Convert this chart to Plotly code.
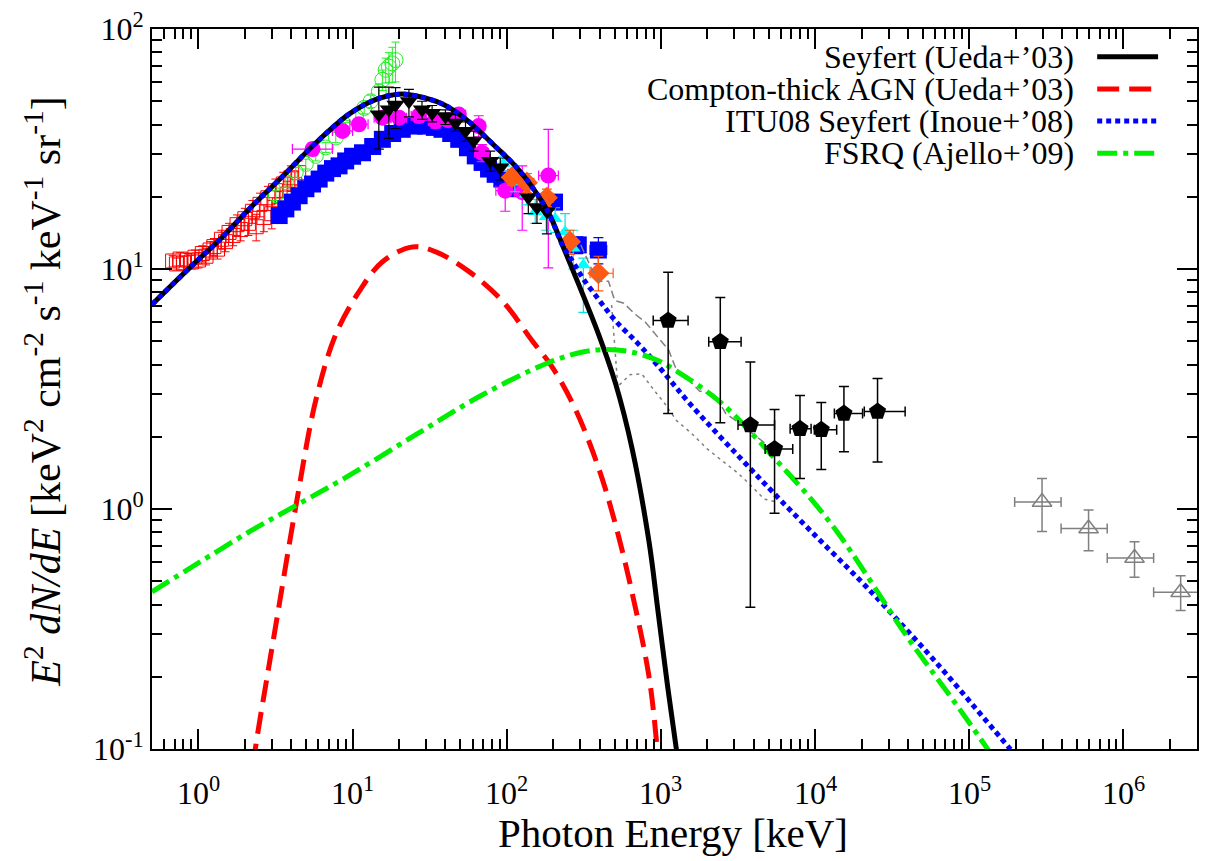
import math
import plotly.graph_objects as go

FONT = "'Liberation Serif', 'Times New Roman', Times, serif"

# ---------------- model curves (E [keV], E^2 dN/dE) ----------------
sey_E = [0.5, 0.918, 1.368, 2.138, 3.51, 5.77, 9.48, 14.1, 19.95, 25.6, 38.0, 54.0, 84.3, 113.5,
         145.2, 186.2, 229.6, 291, 393, 508, 652, 836, 955, 1096, 1259, 1380]
sey_F = [7.11, 10.4, 13.2, 17.8, 24.3, 33.5, 44.2, 50.8, 53.5, 52.7, 48.8, 42.2, 32.4, 26.9,
         22.1, 17.2, 12.6, 8.71, 5.37, 3.33, 1.77, 0.734, 0.38, 0.19, 0.1, 0.063]

ctk_E = [2.138, 2.339, 2.754, 3.184, 4.30, 5.78, 7.80, 11.04, 15.63, 24.5, 34.7, 57.0, 93.8,
         146.6, 197.7, 280, 396, 508, 652, 836, 946, 1000]
ctk_F = [0.063, 0.1, 0.19, 0.331, 1.04, 2.85, 5.36, 8.07, 10.72, 12.36, 11.78, 9.75, 7.35,
         5.01, 3.89, 2.59, 1.47, 0.859, 0.444, 0.201, 0.1, 0.063]

itu_E = [0.5, 0.918, 1.368, 2.138, 3.51, 5.77, 9.48, 14.1, 19.95, 25.6, 38.0, 54.0, 84.3, 113.5,
         145.2, 186.2, 229.6, 269, 309, 398, 508, 708, 948, 1585, 3776, 5297, 9886, 21630,
         61240, 182800, 223900]
itu_F = [7.11, 10.4, 13.2, 17.8, 24.3, 33.5, 44.2, 50.8, 53.5, 52.7, 48.8, 42.2, 32.4, 26.9,
         22.1, 17.2, 12.6, 10.7, 9.23, 7.41, 6.08, 4.9, 3.98, 2.69, 1.48, 1.178, 0.782, 0.472,
         0.2286, 0.1007, 0.087]

fsrq_E = [0.5, 1.0, 2.138, 4.30, 9.51, 25.7, 69.2, 186.2, 316, 447, 631, 948, 1259, 2427, 5297,
          12850, 40360, 83750, 130300, 158500]
fsrq_F = [0.452, 0.596, 0.804, 1.035, 1.38, 2.04, 2.985, 4.07, 4.52, 4.62, 4.52, 4.17, 3.76, 2.79,
          1.66, 0.859, 0.288, 0.151, 0.1007, 0.083]

# ---------------- data sets ----------------
red_E = [0.68, 0.72, 0.76, 0.80, 0.85, 0.90, 0.95, 1.00, 1.06, 1.12, 1.19, 1.26, 1.33, 1.41, 1.50,
         1.58, 1.68, 1.78, 1.88, 2.00, 2.11, 2.24, 2.37, 2.51, 2.66, 2.82, 2.99, 3.16, 3.35, 3.55,
         3.76, 3.98, 4.22, 4.47]
red_F = [10.8, 10.5, 11.0, 10.6, 10.9, 10.7, 11.2, 10.9, 11.6, 11.3, 12.0, 12.4, 12.1, 13.3, 13.0,
         14.2, 13.8, 15.3, 14.6, 16.2, 15.5, 17.4, 15.0, 18.6, 16.4, 19.8, 17.0, 21.2, 18.5, 22.6,
         20.5, 24.0, 22.5, 25.2]
red_dF = [0.6, 0.6, 0.7, 0.7, 0.7, 0.7, 0.8, 0.8, 0.9, 0.9, 1.0, 1.0, 1.1, 1.2, 1.2, 1.3, 1.3,
          1.5, 1.5, 1.7, 1.7, 1.9, 1.9, 2.1, 2.1, 2.3, 2.3, 2.5, 2.5, 2.7, 2.7, 2.9, 2.9, 3.0]

green_E = [3.18, 3.69, 4.28, 4.97, 5.77, 6.70, 7.78, 9.02, 10.5, 11.9, 13.1, 14.8, 15.6, 16.4,
           17.2, 18.1, 19.0]
green_F = [20.3, 23.0, 25.3, 27.4, 29.6, 32.1, 35.3, 38.8, 43.4, 46.9, 50.0, 55.0, 61.4, 67.6,
           69.7, 71.9, 74.2]
green_dF = [1.0, 1.1, 1.2, 1.3, 1.4, 1.5, 1.7, 1.9, 2.2, 2.6, 3.0, 4.0, 6.0, 8.0, 10.0, 12.0, 14.0]

blue_E = [3.34, 3.69, 4.07, 4.50, 4.98, 5.50, 6.07, 6.70, 7.41, 8.17, 9.02, 10.0, 11.6, 13.5,
          15.6, 18.2, 21.0, 25.1, 29.7, 33.9, 38.0, 43.3, 48.8, 55.6, 62.5, 69.2, 76.2, 84.1,
          92.9, 104, 113.5, 204, 291, 393]
blue_F = [16.7, 17.8, 19.0, 20.2, 21.6, 22.6, 23.7, 25.1, 26.2, 26.9, 28.2, 29.5, 30.5, 32.4,
          34.7, 36.7, 38.2, 39.4, 39.4, 38.9, 38.2, 36.7, 34.7, 32.0, 29.6, 27.8, 26.1, 24.8,
          23.7, 22.6, 21.6, 19.0, 12.6, 12.0]
blue_dF = [0] * 31 + [1.2, 1.0, 1.5]
blue_dE_lo = [0] * 31 + [20, 28, 46]
blue_dE_hi = [0] * 31 + [22, 32, 52]

mag_E = [5.5, 8.6, 11.0, 15.6, 20.0, 26.9, 34.5, 41.7, 48.8, 65.8, 69.0, 97.7, 126, 186]
mag_F = [31.6, 37.6, 40.1, 42.7, 42.7, 43.4, 41.3, 41.7, 44.0, 39.4, 30.5, 21.2, 20.9, 24.5]
mag_hi = [33.5, 39.5, 42.0, 45.0, 45.0, 46.0, 44.0, 44.0, 46.5, 43.5, 33.0, 24.1, 26.9, 38.2]
mag_lo = [29.7, 35.7, 38.2, 40.4, 40.4, 40.8, 38.6, 39.4, 41.5, 35.5, 28.0, 17.4, 14.5, 10.1]
mag_E_lo = [4.07, 7.4, 9.6, 13.8, 17.8, 24.0, 31.0, 37.5, 44.0, 60.0, 62.0, 85.0, 112, 161]
mag_E_hi = [7.39, 10.0, 12.6, 17.6, 22.4, 30.0, 38.5, 46.5, 54.0, 72.0, 76.0, 112, 141, 216]

bat_E = [14.8, 17.2, 19.0, 23.2, 28.2, 32.8, 40.0, 46.5, 54.0, 61.0, 78.2, 90.8, 138, 157, 182]
bat_F = [44.0, 46.2, 48.4, 50.0, 46.2, 44.7, 43.3, 40.7, 37.6, 34.2, 28.2, 26.5, 19.9, 18.1, 17.4]
bat_hi = [57.2, 57.2, 57.0, 56.0, 50.0, 48.0, 46.0, 44.0, 41.0, 37.5, 31.0, 29.0, 22.5, 20.5, 20.0]
bat_lo = [31.6, 35.0, 38.5, 43.0, 42.0, 41.0, 40.0, 37.5, 34.0, 31.0, 25.5, 23.5, 17.0, 15.5, 14.0]

cyan_E = [95, 113, 134, 153, 180, 206, 239, 270, 314]
cyan_F = [27.5, 23.0, 20.5, 17.3, 16.5, 16.2, 14.3, 12.2, 10.4]
cyan_hi = [29.5, 25.0, 22.5, 19.5, 18.5, 18.0, 17.0, 14.5, 11.1]
cyan_lo = [25.5, 21.0, 18.5, 15.5, 14.5, 14.2, 12.6, 10.0, 6.6]

org_E = [108, 135, 182, 257, 393]
org_F = [24.1, 22.9, 19.8, 13.0, 9.6]
org_hi = [26.0, 25.0, 21.5, 14.5, 11.3]
org_lo = [22.3, 20.8, 18.2, 11.5, 8.1]
org_E_lo = [100, 122, 165, 236, 347]
org_E_hi = [117, 150, 200, 280, 490]

gup_E = [302, 355, 398, 457, 501, 575, 676, 794, 955, 1122, 1259, 1429, 1778, 2239, 2630, 3162,
         4169, 5370]
gup_F = [12.6, 10.0, 8.9, 8.9, 7.4, 7.2, 6.5, 6.0, 5.2, 4.6, 3.8, 3.6, 3.1, 3.0, 2.5, 2.3, 2.0, 1.77]
glo_E = [479, 501, 525, 631, 750, 891, 1059, 1259, 1574, 1995, 2588, 3162, 3664, 4677, 5623]
glo_F = [7.08, 5.01, 3.24, 3.63, 3.66, 3.16, 2.75, 2.34, 2.07, 1.78, 1.56, 1.41, 1.29, 1.10, 1.07]

pent_E = [1114, 2427, 3802, 5458, 7980, 10965, 15382, 25410]
pent_F = [6.1, 4.98, 2.24, 1.78, 2.16, 2.14, 2.5, 2.55]
pent_hi = [9.7, 7.6, 4.1, 2.6, 2.97, 2.78, 3.24, 3.5]
pent_lo = [2.5, 2.29, 0.39, 0.96, 1.34, 1.46, 1.73, 1.57]
pent_E_lo = [891, 2042, 3162, 4742, 6887, 9886, 13335, 20845]
pent_E_hi = [1500, 3311, 5458, 7161, 9419, 13804, 20324, 38371]

egret_E = [296500, 594000, 1180000, 2350000]
egret_F = [1.07, 0.83, 0.625, 0.45]
egret_hi = [1.34, 0.99, 0.73, 0.527]
egret_lo = [0.805, 0.67, 0.52, 0.378]
egret_E_lo = [197000, 394000, 785000, 1570000]
egret_E_hi = [394000, 785000, 1570000, 3300000]

legend_labels = ["Seyfert (Ueda+\u201903)", "Compton-thick AGN (Ueda+\u201903)",
                 "ITU08 Seyfert (Inoue+\u201908)", "FSRQ (Ajello+\u201909)"]

X_MIN, X_MAX = 0.5, 3e6
Y_MIN, Y_MAX = 0.1, 100
x_major = [1, 10, 100, 1e3, 1e4, 1e5, 1e6]
x_major_text = ["10<sup>%d</sup>" % k for k in range(0, 7)]
y_major = [0.1, 1, 10, 100]
y_major_text = ["10<sup>-1</sup>", "10<sup>0</sup>", "10<sup>1</sup>", "10<sup>2</sup>"]


def diff(a, b):
    return [x - y for x, y in zip(a, b)]


def yerr(F, hi, lo, color, w=5, t=1.2):
    return dict(type="data", symmetric=False, array=diff(hi, F), arrayminus=diff(F, lo),
                color=color, thickness=t, width=w)


def xerr(E, hi, lo, color, w=5, t=1.2):
    return dict(type="data", symmetric=False, array=diff(hi, E), arrayminus=diff(E, lo),
                color=color, thickness=t, width=w)


fig = go.Figure()

# data clusters
fig.add_trace(go.Scatter(x=red_E, y=red_F, mode="markers",
                         marker=dict(symbol="square-open", size=14, color="#ff0000", line=dict(width=1)),
                         error_y=dict(type="data", array=red_dF, color="#ff0000", thickness=1, width=4)))
fig.add_trace(go.Scatter(x=green_E, y=green_F, mode="markers",
                         marker=dict(symbol="circle-open", size=15, color="#22ee22", line=dict(width=1)),
                         error_y=dict(type="data", array=green_dF, color="#22ee22", thickness=1, width=4)))
fig.add_trace(go.Scatter(x=blue_E, y=blue_F, mode="markers",
                         marker=dict(symbol="square", size=17, color="#0000ff"),
                         error_y=dict(type="data", array=blue_dF, color="#0000ff", thickness=1.2, width=5),
                         error_x=dict(type="data", symmetric=False, array=blue_dE_hi,
                                      arrayminus=blue_dE_lo, color="#0000ff", thickness=1.2, width=5)))
fig.add_trace(go.Scatter(x=mag_E, y=mag_F, mode="markers",
                         marker=dict(symbol="circle", size=16, color="#ff00ff"),
                         error_y=yerr(mag_F, mag_hi, mag_lo, "#ff00ff"),
                         error_x=xerr(mag_E, mag_E_hi, mag_E_lo, "#ff00ff")))
fig.add_trace(go.Scatter(x=cyan_E, y=cyan_F, mode="markers",
                         marker=dict(symbol="triangle-up", size=13, color="#00ffff"),
                         error_y=yerr(cyan_F, cyan_hi, cyan_lo, "#00e5e5")))
fig.add_trace(go.Scatter(x=bat_E, y=bat_F, mode="markers",
                         marker=dict(symbol="triangle-down", size=16, color="#000000"),
                         error_y=yerr(bat_F, bat_hi, bat_lo, "#000000")))
fig.add_trace(go.Scatter(x=org_E, y=org_F, mode="markers",
                         marker=dict(symbol="diamond", size=17, color="#ff5a14"),
                         error_y=yerr(org_F, org_hi, org_lo, "#ff5a14"),
                         error_x=xerr(org_E, org_E_hi, org_E_lo, "#ff5a14")))
fig.add_trace(go.Scatter(x=gup_E, y=gup_F, mode="lines",
                         line=dict(color="#808080", width=1.5, dash="8px,4px")))
fig.add_trace(go.Scatter(x=glo_E, y=glo_F, mode="lines",
                         line=dict(color="#808080", width=1.5, dash="3px,4px")))

# model curves
curve_style = [
    (sey_E, sey_F, dict(color="#000000", width=5)),
    (ctk_E, ctk_F, dict(color="#ff0000", width=5, dash="22px,10px")),
    (itu_E, itu_F, dict(color="#0000ff", width=5, dash="5px,4px")),
    (fsrq_E, fsrq_F, dict(color="#00ee00", width=5, dash="20px,6px,5px,6px")),
]
for E, F, ln in curve_style:
    fig.add_trace(go.Scatter(x=E, y=F, mode="lines", line=dict(shape="spline", **ln)))

fig.add_trace(go.Scatter(x=pent_E, y=pent_F, mode="markers",
                         marker=dict(symbol="pentagon", size=18, color="#000000"),
                         error_y=yerr(pent_F, pent_hi, pent_lo, "#000000", w=5, t=1.5),
                         error_x=xerr(pent_E, pent_E_hi, pent_E_lo, "#000000", w=5, t=1.5)))
fig.add_trace(go.Scatter(x=egret_E, y=egret_F, mode="markers",
                         marker=dict(symbol="triangle-up-open", size=17, color="#808080",
                                     line=dict(width=1.5)),
                         error_y=yerr(egret_F, egret_hi, egret_lo, "#808080", w=5, t=1.5),
                         error_x=xerr(egret_E, egret_E_hi, egret_E_lo, "#808080", w=5, t=1.5)))

# legend (text right-aligned, line sample on the right)
PL, PR, PT, PB = 152, 1199, 22, 749


def py(px):
    return 1 - (px - PT) / (PB - PT)


def pxx(px):
    return (px - PL) / (PR - PL)


leg_rows_px = [50, 82.5, 115, 147.5]
shapes = []
annots = []
for (E, F, ln), lab, ry in zip(curve_style, legend_labels, leg_rows_px):
    annots.append(dict(text=lab, xref="paper", yref="paper", x=pxx(1078), y=py(ry),
                       xanchor="right", yanchor="middle", showarrow=False,
                       font=dict(family=FONT, size=32, color="black")))
    shapes.append(dict(type="line", xref="paper", yref="paper",
                       x0=pxx(1099), x1=pxx(1160), y0=py(ry), y1=py(ry),
                       line=dict(color=ln["color"], width=5, dash=ln.get("dash", "solid"))))

# x tick labels (placed as text under each major tick)
for v, t in zip(x_major, x_major_text):
    annots.append(dict(text=t, xref="x", yref="paper", x=math.log10(v), y=py(791),
                       xanchor="center", yanchor="middle", showarrow=False,
                       font=dict(family=FONT, size=32, color="black")))

annots.append(dict(text="Photon Energy [keV]", xref="paper", yref="paper",
                   x=pxx(674), y=py(834), xanchor="center", yanchor="middle", showarrow=False,
                   font=dict(family=FONT, size=41, color="black")))
annots.append(dict(text="<i>E</i><sup>2</sup> <i>dN/dE</i> [keV<sup>2</sup> cm<sup>-2</sup> "
                        "s<sup>-1</sup> keV<sup>-1</sup> sr<sup>-1</sup>]",
                   xref="paper", yref="paper", x=pxx(43), y=py(388), textangle=-90,
                   xanchor="center", yanchor="middle", showarrow=False,
                   font=dict(family=FONT, size=42, color="black")))

x_minor = [m * 10 ** k for k in range(-1, 7) for m in range(2, 10) if X_MIN <= m * 10 ** k <= X_MAX]
y_minor = [m * 10 ** k for k in range(-1, 2) for m in range(2, 10)]

fig.update_layout(
    width=1206, height=861, autosize=False,
    margin=dict(l=PL, r=1206 - PR, t=PT, b=861 - PB, pad=0),
    paper_bgcolor="white", plot_bgcolor="white", showlegend=False,
    font=dict(family=FONT, color="black", size=32),
    shapes=shapes, annotations=annots,
)
axis_common = dict(type="log", showgrid=False, zeroline=False, showline=True, linecolor="black",
                   linewidth=2, mirror="ticks", ticks="inside", ticklen=20, tickwidth=2,
                   tickcolor="black", tickfont=dict(family=FONT, size=32, color="black"))
fig.update_xaxes(range=[math.log10(X_MIN), math.log10(X_MAX)], tickvals=x_major,
                 ticktext=x_major_text, showticklabels=False,
                 minor=dict(ticks="inside", ticklen=10, tickwidth=1.5, tickcolor="black",
                            tickvals=x_minor, showgrid=False), **axis_common)
fig.update_yaxes(range=[math.log10(Y_MIN), math.log10(Y_MAX)], tickvals=y_major,
                 ticktext=y_major_text, ticklabeloverflow="allow",
                 minor=dict(ticks="inside", ticklen=10, tickwidth=1.5, tickcolor="black",
                            tickvals=y_minor, showgrid=False), **axis_common)

fig.write_html("out.html")
